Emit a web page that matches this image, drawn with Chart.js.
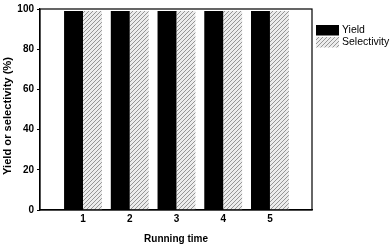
<!DOCTYPE html>
<html><head><meta charset="utf-8">
<script src="https://cdn.jsdelivr.net/npm/chart.js@4/dist/chart.umd.min.js"></script>
<style>html,body{margin:0;padding:0;background:#fff}#wrap{width:392px;height:245px}</style>
</head><body><div id="wrap"><canvas id="c" width="392" height="245"></canvas></div>
<script>
const runs = [1, 2, 3, 4, 5];
const yieldVals = [99, 99, 99, 99, 99];
const selectivityVals = [99, 99, 99, 99, 99];
const yTicks = [0, 20, 40, 60, 80, 100];
const seriesNames = ['Yield', 'Selectivity'];
const yTitle = 'Yield or selectivity (%)';

function hatch() {
  const p = document.createElement('canvas');
  p.width = 4; p.height = 4;
  const g = p.getContext('2d');
  g.fillStyle = '#ececec'; g.fillRect(0, 0, 4, 4);
  g.strokeStyle = '#959595'; g.lineWidth = 1;
  g.beginPath();
  g.moveTo(0, 4); g.lineTo(4, 0);
  g.moveTo(-1, 1); g.lineTo(1, -1);
  g.moveTo(3, 5); g.lineTo(5, 3);
  g.stroke();
  return g.createPattern(p, 'repeat');
}
const ctx = document.getElementById('c').getContext('2d');
const hatchFill = hatch();
const FONT = '"Liberation Sans", Arial, sans-serif';

const legendPlugin = {
  id: 'sideLegend',
  afterDraw(chart) {
    const c = chart.ctx;
    const ca = chart.chartArea;
    c.save();
    chart.data.datasets.forEach((ds, i) => {
      const x = ca.right + 4, y = 25 + i * 12;
      c.fillStyle = ds.backgroundColor;
      c.fillRect(x, y, 23, 10.5);
      c.fillStyle = '#000';
      c.font = '10.5px ' + FONT;
      c.textBaseline = 'middle';
      c.fillText(ds.label, x + 26, y + 5.5);
    });
    c.restore();
  }
};

const yTitlePlugin = {
  id: 'yTitle',
  afterDraw(chart) {
    const c = chart.ctx;
    c.save();
    c.font = 'bold 10.5px ' + FONT;
    const w = c.measureText(yTitle).width;
    const k = 118 / w;
    c.translate(8, 116);
    c.rotate(-Math.PI / 2);
    c.scale(k, 1);
    c.fillStyle = '#000';
    c.textAlign = 'center';
    c.textBaseline = 'middle';
    c.fillText(yTitle, 0, 0);
    c.restore();
  }
};

new Chart(ctx, {
  type: 'bar',
  data: {
    datasets: [
      { label: seriesNames[0], data: runs.map((r, i) => ({x: r, y: yieldVals[i]})), backgroundColor: '#000000', borderWidth: 0 },
      { label: seriesNames[1], data: runs.map((r, i) => ({x: r, y: selectivityVals[i]})), backgroundColor: hatchFill, borderWidth: 0 }
    ]
  },
  options: {
    responsive: false, animation: false, devicePixelRatio: 1,
    layout: { padding: { top: 6, right: 80, left: 0, bottom: 0 } },
    plugins: { legend: { display: false }, tooltip: { enabled: false } },
    datasets: { bar: { categoryPercentage: 0.81, barPercentage: 1, grouped: true } },
    scales: {
      x: {
        type: 'linear', min: 0.08, max: 5.9, offset: false,
        afterBuildTicks(s) { s.ticks = runs.map(v => ({value: v})); },
        afterFit(s) { s.height = 35; },
        grid: { display: false, drawTicks: false },
        border: { display: true, color: '#000', width: 1.2 },
        ticks: { color: '#000', padding: 3, font: { family: FONT, size: 10, weight: 'bold' } },
        title: { display: true, text: 'Running time', color: '#000', padding: { top: 9, bottom: 0 }, font: { family: FONT, size: 10, weight: 'bold' } }
      },
      y: {
        min: 0, max: 100,
        afterBuildTicks(s) { s.ticks = yTicks.map(v => ({value: v})); },
        afterFit(s) { s.width = 40; },
        grid: { display: true, drawOnChartArea: false, drawTicks: true, tickLength: 3, color: '#000' },
        border: { display: true, color: '#000', width: 1.2 },
        ticks: { color: '#000', padding: 3, font: { family: FONT, size: 10, weight: 'bold' } },
        title: { display: false }
      }
    }
  },
  plugins: [legendPlugin, yTitlePlugin, {
    id: 'frame',
    afterDatasetsDraw(chart) {
      const c = chart.ctx, a = chart.chartArea;
      c.save(); c.strokeStyle = '#000'; c.lineWidth = 1.2;
      c.strokeRect(a.left, a.top, a.right - a.left, a.bottom - a.top);
      c.restore();
    }
  }]
});
</script></body></html>
